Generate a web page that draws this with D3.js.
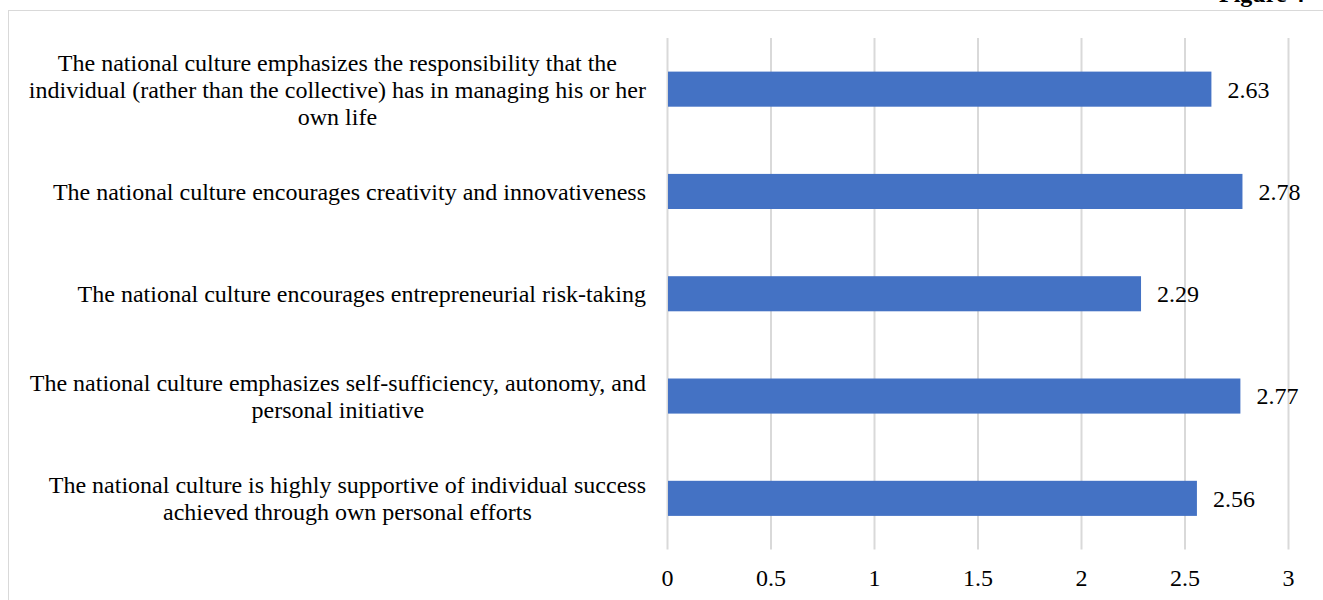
<!DOCTYPE html>
<html>
<head>
<meta charset="utf-8">
<script src="https://cdn.jsdelivr.net/npm/d3@7"></script>
<style>
  html, body { margin: 0; padding: 0; background: #fff; overflow: hidden; }
  svg { display: block; font-family: "Liberation Serif", "Times New Roman", serif; }
</style>
</head>
<body>
<svg id="chart" width="1323" height="600"></svg>
<script>
// Survey items (top to bottom) and their mean scores
const categories = [
  "The national culture emphasizes the responsibility that the individual (rather than the collective) has in managing his or her own life",
  "The national culture encourages creativity and innovativeness",
  "The national culture encourages entrepreneurial risk-taking",
  "The national culture emphasizes self-sufficiency, autonomy, and personal initiative",
  "The national culture is highly supportive of individual success achieved through own personal efforts"
];
const values = [2.63, 2.78, 2.29, 2.77, 2.56];
const xTicks = [0, 0.5, 1, 1.5, 2, 2.5, 3];
const figureTitle = "Figure 4";

const svg = d3.select("#chart");
const W = 1323, H = 600;
const plot = { left: 667, right: 1288, top: 38, bottom: 549.5 };
const fontSize = 24;

// Chart-area frame
svg.append("rect")
  .attr("x", 8.5).attr("y", 10.5)
  .attr("width", W).attr("height", H)
  .attr("fill", "none").attr("stroke", "#d9d9d9").attr("stroke-width", 1);

// Figure caption, running off the top edge
svg.append("text")
  .attr("x", 1219).attr("y", 2)
  .attr("font-size", fontSize).attr("font-weight", "bold")
  .attr("fill", "#000")
  .text(figureTitle);

const x = d3.scaleLinear().domain([0, 3]).range([plot.left, plot.right]);
const y = d3.scaleBand().domain(categories)
  .range([plot.top, plot.bottom])
  .paddingInner(0.657).paddingOuter(0.3285);

// Vertical gridlines and value axis labels
const xAxis = d3.axisBottom(x).tickValues(xTicks)
  .tickFormat(d3.format("~g"))
  .tickSize(-(plot.bottom - plot.top)).tickPadding(19);
const gx = svg.append("g")
  .attr("transform", `translate(0,${plot.bottom})`)
  .call(xAxis);
gx.select(".domain").remove();
gx.selectAll(".tick line").attr("stroke", "#d9d9d9").attr("stroke-width", 2);
gx.selectAll(".tick text")
  .attr("font-family", "Liberation Serif, Times New Roman, serif")
  .attr("font-size", fontSize).attr("fill", "#000");

// Bars
svg.append("g").selectAll("rect")
  .data(values)
  .join("rect")
  .attr("x", x(0) + 1)
  .attr("y", (d, i) => y(categories[i]))
  .attr("width", d => x(d) - x(0) - 1)
  .attr("height", y.bandwidth())
  .attr("fill", "#4472c4");

// Value labels
svg.append("g").selectAll("text")
  .data(values)
  .join("text")
  .attr("x", d => x(d) + 16)
  .attr("y", (d, i) => y(categories[i]) + y.bandwidth() / 2)
  .attr("dy", "0.35em")
  .attr("font-size", fontSize)
  .attr("fill", "#000")
  .text(d => d3.format(".2f")(d));

// Category labels: wrapped, block right-aligned, lines centred within the block
const labelRight = 646, maxWidth = 624, lineHeight = 27;
const measure = svg.append("text").attr("font-size", fontSize).attr("visibility", "hidden");
function textWidth(s) { measure.text(s); return measure.node().getComputedTextLength(); }
function wrap(s) {
  const words = s.split(" ");
  const lines = [];
  let cur = "";
  for (const w of words) {
    const t = cur ? cur + " " + w : w;
    if (cur && textWidth(t) > maxWidth) { lines.push(cur); cur = w; }
    else cur = t;
  }
  if (cur) lines.push(cur);
  return lines;
}
const gLabels = svg.append("g");
categories.forEach((c, i) => {
  const lines = wrap(c);
  const blockW = d3.max(lines, textWidth);
  const cx = labelRight - blockW / 2;
  const cy = y(c) + y.bandwidth() / 2;
  const t = gLabels.append("text")
    .attr("text-anchor", "middle")
    .attr("font-size", fontSize)
    .attr("fill", "#000");
  lines.forEach((ln, k) => {
    t.append("tspan")
      .attr("x", cx)
      .attr("y", cy + (k - (lines.length - 1) / 2) * lineHeight)
      .attr("dy", "0.35em")
      .text(ln);
  });
});
measure.remove();
</script>
</body>
</html>
